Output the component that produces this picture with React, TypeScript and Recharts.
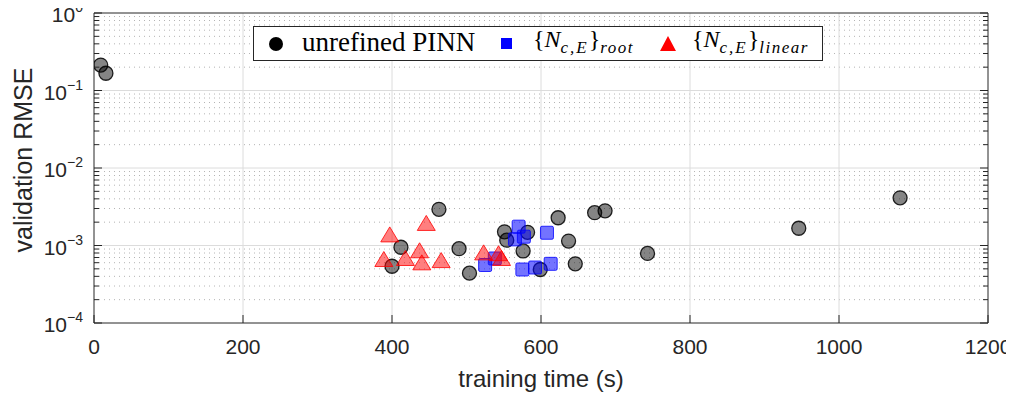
import { ScatterChart, Scatter, XAxis, YAxis, CartesianGrid, Label } from 'recharts'

// unrefined PINN runs
const pinnTime = [9, 16, 400, 412, 463, 490, 504, 551, 554, 576, 582, 599, 623, 637, 646, 672, 686, 743, 946, 1082]
const pinnRmse = [
  0.213, 0.167, 5.4e-4, 9.5e-4, 2.93e-3, 9.1e-4, 4.4e-4, 1.5e-3, 1.17e-3, 8.5e-4, 1.48e-3, 4.9e-4,
  2.28e-3, 1.14e-3, 5.8e-4, 2.65e-3, 2.8e-3, 7.9e-4, 1.67e-3, 4.12e-3,
]

// {N_c,E}_root
const rootTime = [525, 538, 565, 570, 577, 608, 575, 592, 613]
const rootRmse = [5.6e-4, 6.8e-4, 1.2e-3, 1.75e-3, 1.3e-3, 1.46e-3, 4.9e-4, 5.2e-4, 5.8e-4]

// {N_c,E}_linear
const linearTime = [389, 397, 418, 437, 440, 446, 466, 523, 543, 547]
const linearRmse = [6.4e-4, 1.33e-3, 6.6e-4, 8.3e-4, 5.8e-4, 1.87e-3, 6.2e-4, 7.8e-4, 7.6e-4, 6.6e-4]

const xTicks = [0, 200, 400, 600, 800, 1000, 1200]
const decades = [1e-4, 1e-3, 1e-2, 1e-1, 1]
const decadeExp = ['−4', '−3', '−2', '−1', '0']
const minorVals = [-4, -3, -2, -1].flatMap((e) => [2, 3, 4, 5, 6, 7, 8, 9].map((m) => m * Math.pow(10, e)))
const yTicks = [...decades, ...minorVals].sort((a, b) => a - b)

const zip = (xs: number[], ys: number[]) => xs.map((t, i) => ({ time: t, rmse: ys[i] }))
const pinnData = zip(pinnTime, pinnRmse)
const rootData = zip(rootTime, rootRmse)
const linearData = zip(linearTime, linearRmse)

const AX = '#262626'
const SANS = '"Liberation Sans", Arial, Helvetica, sans-serif'
const SERIF = '"Liberation Serif", "Times New Roman", serif'

const decadeIndex = (v: number) => decades.findIndex((d) => Math.abs(d - v) < d * 1e-6)

function LeftTick(props: any) {
  const { x, y, payload } = props
  const idx = decadeIndex(payload.value)
  const major = idx >= 0
  return (
    <g>
      <line x1={x} x2={x + (major ? 8 : 5)} y1={y} y2={y} stroke={AX} />
      {major && (
        <text x={x - 11} y={y + 9} textAnchor="end" fontFamily={SANS} fontSize={21} fill={AX}>
          <tspan>10</tspan>
          <tspan dy={-10} fontSize={14}>{decadeExp[idx]}</tspan>
        </text>
      )}
    </g>
  )
}

function RightTick(props: any) {
  const { x, y, payload } = props
  const major = decadeIndex(payload.value) >= 0
  return <line x1={x} x2={x - (major ? 8 : 5)} y1={y} y2={y} stroke={AX} />
}

function BottomTick(props: any) {
  const { x, y, payload } = props
  return (
    <g>
      <line x1={x} x2={x} y1={y} y2={y - 8} stroke={AX} />
      <text x={x} y={y + 31} textAnchor="middle" fontFamily={SANS} fontSize={21} fill={AX}>
        {payload.value}
      </text>
    </g>
  )
}

function TopTick(props: any) {
  const { x, y } = props
  return <line x1={x} x2={x} y1={y} y2={y + 8} stroke={AX} />
}

const circleShape = (p: any) => (
  <circle cx={p.cx} cy={p.cy} r={7} fill="#000" fillOpacity={0.48} stroke="#000" strokeWidth={1.3} strokeOpacity={0.85} />
)
const squareShape = (p: any) => (
  <rect x={p.cx - 6.5} y={p.cy - 6.5} width={13} height={13} rx={1.5} fill="#0000ff" fillOpacity={0.55} stroke="#0000ff" strokeOpacity={0.8} />
)
const triangleShape = (p: any) => (
  <polygon
    points={`${p.cx},${p.cy - 9} ${p.cx - 9},${p.cy + 6} ${p.cx + 9},${p.cy + 6}`}
    fill="#ff0000"
    fillOpacity={0.5}
    stroke="#ff0000"
    strokeOpacity={0.8}
    strokeLinejoin="round"
  />
)

function Legend() {
  const sub = { fontFamily: SERIF, fontSize: 17, fontStyle: 'italic', verticalAlign: '-6px', letterSpacing: 1.5 } as const
  const math = (s: string) => (
    <span style={{ fontFamily: SERIF, fontSize: 24 }}>
      {'{'}
      <span style={{ fontStyle: 'italic' }}>N</span>
      <span style={{ ...sub, letterSpacing: 2 }}>c,E</span>
      {'}'}
      <span style={sub}>{s}</span>
    </span>
  )
  const item: React.CSSProperties = { position: 'absolute', top: 0, height: 35, display: 'flex', alignItems: 'center', whiteSpace: 'nowrap' }
  return (
    <div
      style={{
        position: 'absolute',
        left: 253,
        top: 26,
        width: 568,
        height: 33,
        border: `1.5px solid ${AX}`,
        background: '#fff',
        fontFamily: SERIF,
        color: '#000',
      }}
    >
      <svg style={{ position: 'absolute', left: 0, top: 0 }} width={568} height={33}>
        <circle cx={22} cy={17} r={7} fill="#000" />
        <rect x={247} y={11} width={11} height={11} fill="#0000ff" />
        <polygon points="414,9 406,24 422,24" fill="#ff0000" />
      </svg>
      <div style={{ ...item, left: 48, fontSize: 27, top: -2 }}>unrefined PINN</div>
      <div style={{ ...item, left: 279, top: -3 }}>{math('root')}</div>
      <div style={{ ...item, left: 438, top: -3 }}>{math('linear')}</div>
    </div>
  )
}

export default function App() {
  return (
    <div style={{ position: 'relative', width: 1014, height: 396, margin: '-8px 0 0 -8px' }}>
      <ScatterChart width={1014} height={396} margin={{ top: 12, right: 25, bottom: 0, left: 0 }}>
        <CartesianGrid
          xAxisId="bottom"
          yAxisId="left"
          horizontalValues={minorVals}
          vertical={false}
          stroke="#b4b4b4"
          strokeDasharray="1 4"
        />
        <CartesianGrid
          xAxisId="bottom"
          yAxisId="left"
          horizontalValues={[1e-3, 1e-2, 1e-1]}
          verticalValues={[200, 400, 600, 800, 1000]}
          stroke="#dcdcdc"
        />
        <XAxis
          xAxisId="bottom"
          dataKey="time"
          type="number"
          domain={[0, 1200]}
          ticks={xTicks}
          allowDataOverflow
          height={73}
          tickSize={0}
          tickMargin={0}
          tickLine={false}
          tick={<BottomTick />}
          axisLine={{ stroke: AX }}
          interval={0}
        >
          <Label
            content={(p: any) => {
              const vb = p.viewBox
              return (
                <text x={vb.x + vb.width / 2} y={387} textAnchor="middle" fontFamily={SANS} fontSize={24} fill={AX}>
                  training time (s)
                </text>
              )
            }}
          />
        </XAxis>
        <XAxis
          xAxisId="top"
          orientation="top"
          type="number"
          domain={[0, 1200]}
          ticks={xTicks}
          allowDataOverflow
          height={1}
          tickSize={0}
          tickMargin={0}
          tickLine={false}
          tick={<TopTick />}
          axisLine={{ stroke: AX }}
          interval={0}
        />
        <YAxis
          yAxisId="left"
          dataKey="rmse"
          type="number"
          scale="log"
          domain={[1e-4, 1]}
          ticks={yTicks}
          allowDataOverflow
          width={94}
          tickSize={0}
          tickMargin={0}
          tickLine={false}
          tick={<LeftTick />}
          axisLine={{ stroke: AX }}
          interval={0}
        >
          <Label
            content={(p: any) => {
              const vb = p.viewBox
              const cy = vb.y + vb.height / 2 - 8
              return (
                <text x={32} y={cy} transform={`rotate(-90 32 ${cy})`} textAnchor="middle" fontFamily={SANS} fontSize={25} fill={AX}>
                  validation RMSE
                </text>
              )
            }}
          />
        </YAxis>
        <YAxis
          yAxisId="right"
          orientation="right"
          type="number"
          scale="log"
          domain={[1e-4, 1]}
          ticks={yTicks}
          allowDataOverflow
          width={1}
          tickSize={0}
          tickMargin={0}
          tickLine={false}
          tick={<RightTick />}
          axisLine={{ stroke: AX }}
          interval={0}
        />
        <Scatter xAxisId="bottom" yAxisId="left" data={pinnData} shape={circleShape} isAnimationActive={false} />
        <Scatter xAxisId="bottom" yAxisId="left" data={rootData} shape={squareShape} isAnimationActive={false} />
        <Scatter xAxisId="bottom" yAxisId="left" data={linearData} shape={triangleShape} isAnimationActive={false} />
      </ScatterChart>
      <Legend />
    </div>
  )
}
